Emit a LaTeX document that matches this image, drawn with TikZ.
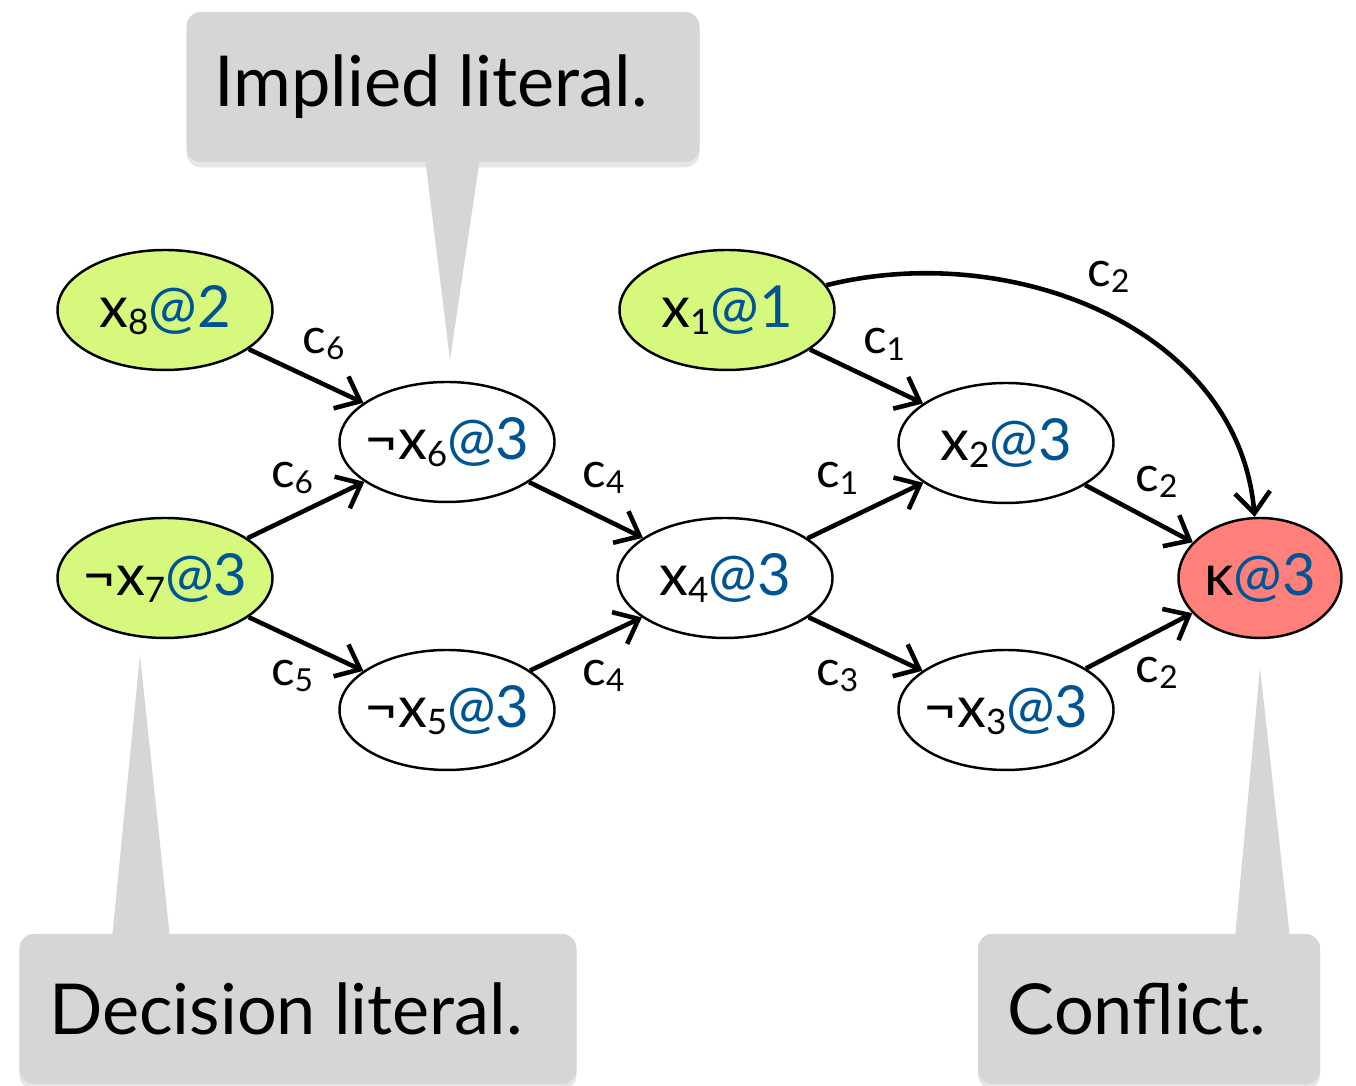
\documentclass[tikz,border=0pt]{standalone}
\usepackage{fontspec}
\setmainfont{Lato}
\usetikzlibrary{arrows.meta,shapes.geometric,shadows}

\definecolor{declgreen}{RGB}{214,249,125}
\definecolor{conflred}{RGB}{255,128,122}
\definecolor{levelblue}{RGB}{0,84,147}
\definecolor{calloutgray}{RGB}{214,214,214}

\newcommand{\lvl}[1]{\textcolor{levelblue}{@#1}}
\newcommand{\idx}[2][10pt]{\raisebox{-0.25ex}{\fontsize{#1}{#1}\selectfont #2}}

\begin{document}
\begin{tikzpicture}[
    lit/.style={ellipse,draw,line width=0.7pt,minimum width=2.15cm,minimum height=1.2cm,
      inner xsep=-2.5pt,inner ysep=0pt,font=\fontsize{16.5pt}{19pt}\selectfont},
    edge/.style={line width=1.3pt,-{Straight Barb[length=6pt,width=10pt,line width=1.3pt]}},
    lbl/.style={font=\fontsize{14pt}{16pt}\selectfont,inner sep=2pt,midway},
    callout/.style={fill=calloutgray,rounded corners=4pt,minimum width=#1,minimum height=1.5cm,
      font=\fontsize{20pt}{24pt}\selectfont,execute at begin node={\hspace*{-0.24cm}},
      drop shadow={shadow xshift=0pt,shadow yshift=-1.5pt,opacity=.2}}
  ]
\useasboundingbox (0,0) rectangle (13.56,10.86);

% Callouts
\node[callout=5.13cm] (impl) at (4.43,9.99) {Implied literal.};
\node[callout=5.57cm] (decn) at (2.98,0.77) {Decision literal.};
\node[callout=3.42cm] (conf) at (11.49,0.77) {Conflict.};
\coordinate (tipI) at (4.50,7.26);
\coordinate (tipD) at (1.40,4.31);
\coordinate (tipC) at (12.60,4.18);
\fill[calloutgray] ([xshift=-0.18cm,yshift=0.05cm]impl.south) -- (tipI) -- ([xshift=0.37cm,yshift=0.05cm]impl.south) -- cycle;
\fill[calloutgray] ([xshift=-1.86cm,yshift=-0.05cm]decn.north) -- (tipD) -- ([xshift=-1.28cm,yshift=-0.05cm]decn.north) -- cycle;
\fill[calloutgray] ([xshift=0.86cm,yshift=-0.05cm]conf.north) -- (tipC) -- ([xshift=1.41cm,yshift=-0.05cm]conf.north) -- cycle;

% Literals
\node[lit,fill=declgreen] (x8) at (1.65,7.76) {x\idx{8}\lvl{2}};
\node[lit,fill=declgreen] (nx7) at (1.65,5.08) {¬x\idx{7}\lvl{3}};
\node[lit] (nx6) at (4.47,6.44) {¬x\idx{6}\lvl{3}};
\node[lit] (nx5) at (4.47,3.76) {¬x\idx{5}\lvl{3}};
\node[lit] (x4) at (7.25,5.08) {x\idx{4}\lvl{3}};
\node[lit,fill=declgreen] (x1) at (7.27,7.76) {x\idx{1}\lvl{1}};
\node[lit] (x2) at (10.06,6.43) {x\idx{2}\lvl{3}};
\node[lit] (nx3) at (10.06,3.76) {¬x\idx{3}\lvl{3}};
\node[lit,fill=conflred,minimum width=1.63cm] (k) at (12.60,5.08) {κ\lvl{3}};

% Implications
\draw[edge] (x8) -- (nx6) node[lbl,above=2pt,xshift=5pt] {c\idx[9pt]{6}};
\draw[edge] (nx7) -- (nx6) node[lbl,above=2pt,xshift=-4pt] {c\idx[9pt]{6}};
\draw[edge] (nx7) -- (nx5) node[lbl,below=2pt,xshift=-4pt] {c\idx[9pt]{5}};
\draw[edge] (nx6) -- (x4) node[lbl,above=2pt,xshift=5pt] {c\idx[9pt]{4}};
\draw[edge] (nx5) -- (x4) node[lbl,below=2pt,xshift=5pt] {c\idx[9pt]{4}};
\draw[edge] (x1) -- (x2) node[lbl,above=2pt,xshift=5pt] {c\idx[9pt]{1}};
\draw[edge] (x4) -- (x2) node[lbl,above=2pt,xshift=-8pt] {c\idx[9pt]{1}};
\draw[edge] (x4) -- (nx3) node[lbl,below=2pt,xshift=-8pt] {c\idx[9pt]{3}};
\draw[edge] (x2) -- (k) node[lbl,above=2pt,xshift=5pt] {c\idx[9pt]{2}};
\draw[edge] (nx3) -- (k) node[lbl,below=2pt,xshift=5pt] {c\idx[9pt]{2}};
\draw[edge] (x1) to[out=14,in=95] node[lbl,pos=0.45,above right=0pt] {c\idx[9pt]{2}} (k);
\end{tikzpicture}
\end{document}
